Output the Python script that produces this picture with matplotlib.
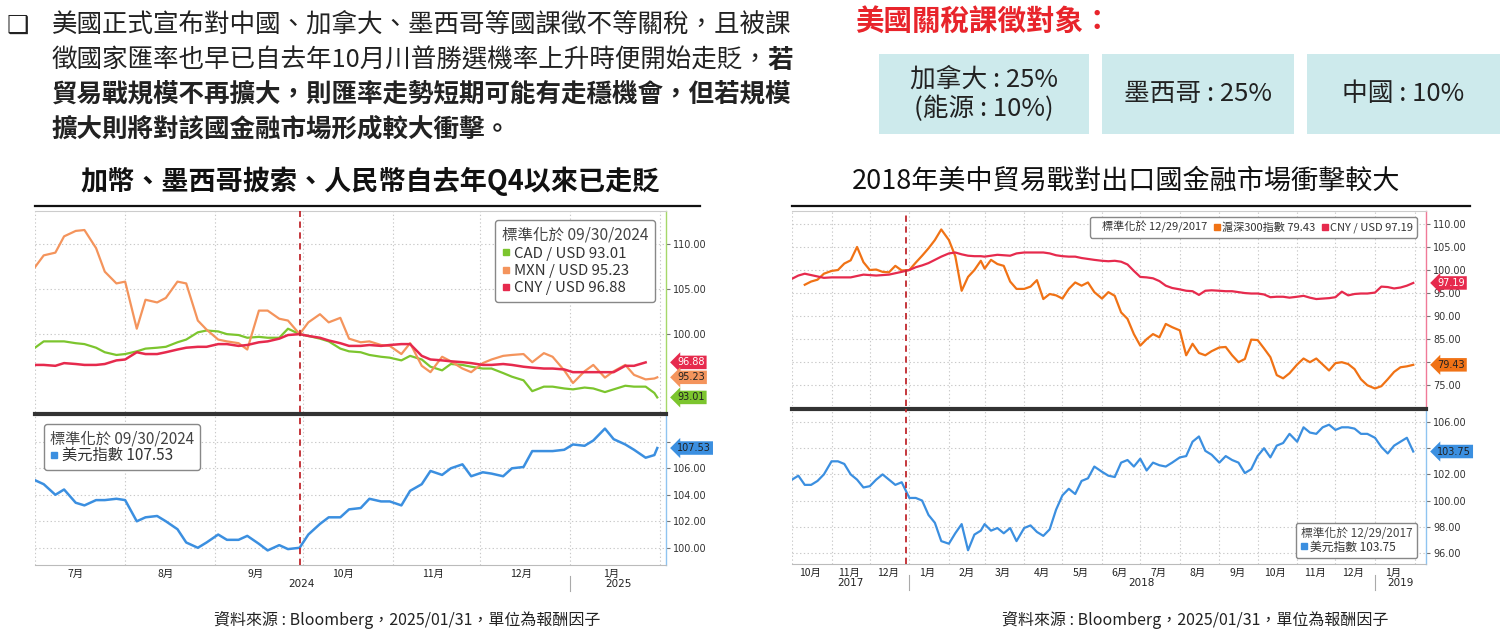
import matplotlib
matplotlib.use("Agg")
import matplotlib.pyplot as plt
import matplotlib.dates as mdates
from matplotlib.lines import Line2D
from matplotlib.patches import Rectangle
from matplotlib.ticker import FuncFormatter
import numpy as np
import pandas as pd

plt.rcParams['font.family'] = ['Noto Sans CJK TC', 'DejaVu Sans']

# ---------------- data: left chart (normalised at 09/30/2024) ----------------
left_dates = [
    "2024-07-01", "2024-07-04", "2024-07-08", "2024-07-11", "2024-07-15", "2024-07-18", "2024-07-22", "2024-07-25", "2024-07-29",
    "2024-08-01", "2024-08-05", "2024-08-08", "2024-08-12", "2024-08-15", "2024-08-19", "2024-08-22", "2024-08-26", "2024-08-29",
    "2024-09-02", "2024-09-05", "2024-09-09", "2024-09-12", "2024-09-16", "2024-09-19", "2024-09-23", "2024-09-26", "2024-09-30",
    "2024-10-03", "2024-10-07", "2024-10-10", "2024-10-14", "2024-10-17", "2024-10-21", "2024-10-24", "2024-10-28", "2024-10-31",
    "2024-11-04", "2024-11-07", "2024-11-11", "2024-11-14", "2024-11-18", "2024-11-21", "2024-11-25", "2024-11-28",
    "2024-12-02", "2024-12-05", "2024-12-09", "2024-12-12", "2024-12-16", "2024-12-19", "2024-12-23", "2024-12-26", "2024-12-30",
    "2025-01-02", "2025-01-06", "2025-01-09", "2025-01-13", "2025-01-16", "2025-01-20", "2025-01-23", "2025-01-27", "2025-01-30", "2025-01-31",
]
cad_usd = [
    98.5, 99.2, 99.2, 99.2, 99.0, 98.9, 98.5, 98.0, 97.7,
    97.8, 98.1, 98.4, 98.5, 98.6, 99.1, 99.4, 100.2, 100.4,
    100.3, 100.0, 99.9, 99.6, 99.7, 99.6, 99.6, 100.6, 100.0,
    99.8, 99.5, 99.2, 98.4, 98.1, 98.0, 97.7, 97.5, 97.4,
    97.1, 97.6, 97.2, 96.4, 96.0, 96.7, 96.6, 96.4,
    96.2, 96.2, 95.7, 95.3, 94.9, 93.7, 94.2, 94.2, 94.0,
    93.9, 94.1, 94.0, 93.6, 93.9, 94.3, 94.2, 94.2, 93.5, 93.01,
]
mxn_usd = [
    107.4, 108.7, 109.0, 110.8, 111.4, 111.5, 109.5, 106.9, 105.6,
    105.8, 100.6, 103.8, 103.5, 104.0, 105.8, 105.6, 101.5, 100.5,
    99.4, 99.2, 99.0, 98.3, 102.6, 102.6, 101.7, 101.5, 100.0,
    101.3, 102.2, 101.3, 101.8, 99.5, 99.1, 99.2, 98.8, 98.7,
    97.8, 99.0, 96.5, 95.8, 97.5, 97.0, 96.2, 95.8,
    96.8, 97.2, 97.6, 97.7, 97.8, 96.9, 97.9, 97.5, 96.0,
    94.6, 95.9, 96.6, 95.2, 95.9, 96.6, 95.5, 95.0, 95.1, 95.23,
]
cny_usd = [
    96.6, 96.6, 96.5, 96.8, 96.7, 96.6, 96.6, 96.7, 97.1,
    97.2, 98.0, 97.8, 97.8, 98.0, 98.3, 98.5, 98.6, 98.6,
    98.9, 98.9, 98.7, 98.8, 99.1, 99.2, 99.5, 99.9, 100.0,
    99.8, 99.6, 99.3, 99.0, 98.7, 98.7, 98.8, 98.7, 98.8,
    98.9, 98.9, 97.6, 97.2, 97.1, 97.0, 96.9, 96.8,
    96.6, 96.6, 96.7, 96.6, 96.4, 96.3, 96.2, 96.2, 96.1,
    95.8, 95.8, 95.8, 95.8, 95.8, 96.5, 96.5, 96.88, np.nan, np.nan,
]
dxy_2024 = [
    105.1, 104.8, 104.0, 104.4, 103.4, 103.2, 103.6, 103.6, 103.7,
    103.6, 102.0, 102.3, 102.4, 102.0, 101.4, 100.4, 100.0, 100.4,
    101.0, 100.6, 100.6, 100.9, 100.3, 99.8, 100.2, 99.9, 100.0,
    101.0, 101.8, 102.3, 102.3, 102.9, 103.0, 103.7, 103.5, 103.5,
    103.2, 104.3, 104.8, 105.8, 105.5, 106.0, 106.3, 105.4,
    105.7, 105.6, 105.4, 106.0, 106.1, 107.3, 107.3, 107.3, 107.4,
    107.8, 107.7, 108.1, 109.0, 108.2, 107.8, 107.4, 106.8, 107.0, 107.53,
]

# ---------------- data: right chart (normalised at 12/29/2017) ----------------
right_dates = [
    "2017-10-01", "2017-10-06", "2017-10-11", "2017-10-16", "2017-10-21", "2017-10-26",
    "2017-11-01", "2017-11-06", "2017-11-11", "2017-11-16", "2017-11-21", "2017-11-26",
    "2017-12-01", "2017-12-06", "2017-12-11", "2017-12-16", "2017-12-21", "2017-12-26",
    "2018-01-01", "2018-01-06", "2018-01-11", "2018-01-16", "2018-01-21", "2018-01-26",
    "2018-02-01", "2018-02-06", "2018-02-11", "2018-02-16", "2018-02-21", "2018-02-26",
    "2018-03-01", "2018-03-06", "2018-03-11", "2018-03-16", "2018-03-21", "2018-03-26",
    "2018-04-01", "2018-04-06", "2018-04-11", "2018-04-16", "2018-04-21", "2018-04-26",
    "2018-05-01", "2018-05-06", "2018-05-11", "2018-05-16", "2018-05-21", "2018-05-26",
    "2018-06-01", "2018-06-06", "2018-06-11", "2018-06-16", "2018-06-21", "2018-06-26",
    "2018-07-01", "2018-07-06", "2018-07-11", "2018-07-16", "2018-07-21", "2018-07-26",
    "2018-08-01", "2018-08-06", "2018-08-11", "2018-08-16", "2018-08-21", "2018-08-26",
    "2018-09-01", "2018-09-06", "2018-09-11", "2018-09-16", "2018-09-21", "2018-09-26",
    "2018-10-01", "2018-10-06", "2018-10-11", "2018-10-16", "2018-10-21", "2018-10-26",
    "2018-11-01", "2018-11-06", "2018-11-11", "2018-11-16", "2018-11-21", "2018-11-26",
    "2018-12-01", "2018-12-06", "2018-12-11", "2018-12-16", "2018-12-21", "2018-12-26",
    "2019-01-01", "2019-01-06", "2019-01-11", "2019-01-16", "2019-01-21", "2019-01-26", "2019-01-31",
]
csi300 = [
    np.nan, np.nan, 96.8, 97.5, 97.9, 99.2,
    99.8, 100.0, 101.4, 102.1, 105.0, 101.7,
    100.0, 100.1, 99.6, 99.5, 100.9, 99.9,
    100.0, 101.6, 103.1, 104.7, 106.5, 108.8,
    106.5, 103.0, 95.5, 98.5, 100.0, 102.0,
    100.3, 102.2, 101.3, 100.9, 97.5, 95.9,
    95.9, 96.4, 97.8, 93.7, 94.8, 94.5,
    93.8, 95.9, 97.3, 96.6, 97.3, 95.2,
    93.8, 95.2, 94.4, 90.8, 89.4, 86.1,
    83.6, 85.0, 86.1, 85.4, 88.3, 87.6,
    86.9, 81.5, 84.0, 82.0, 81.5, 82.4,
    83.2, 83.3, 81.5, 80.0, 80.7, 84.9,
    84.8, 83.0, 81.1, 77.2, 76.5, 77.6,
    79.5, 80.8, 80.0, 80.8, 79.5, 78.2,
    79.8, 80.0, 79.6, 78.5, 76.3, 75.0,
    74.3, 74.8, 76.3, 77.9, 78.9, 79.1, 79.43,
]
cny_2018 = [
    98.1, 98.8, 99.2, 98.9, 98.6, 98.3,
    98.4, 98.4, 98.4, 98.4, 98.7, 99.0,
    98.9, 98.8, 98.9, 99.0, 99.3, 99.6,
    100.0, 100.6, 101.0, 101.5, 102.2, 102.9,
    103.6, 103.8, 103.4, 103.1, 103.0, 103.0,
    102.9, 103.1, 103.3, 103.2, 103.1, 103.6,
    103.8, 103.8, 103.8, 103.8, 103.6, 103.2,
    103.0, 102.9, 102.9, 102.6, 102.4, 102.2,
    102.0, 101.9, 102.0, 101.8, 101.2, 99.8,
    98.5, 98.4, 98.2, 97.6, 96.6, 96.1,
    95.8, 95.5, 95.4, 94.6, 95.5, 95.6,
    95.5, 95.4, 95.4, 95.2, 95.0, 94.9,
    94.9, 94.7, 94.1, 94.2, 94.2, 94.0,
    94.2, 94.4, 94.0, 93.7, 93.8, 93.9,
    94.1, 95.3, 94.5, 94.8, 94.9, 94.9,
    95.1, 96.4, 96.3, 96.0, 96.2, 96.6, 97.19,
]
dxy_2018 = [
    101.6, 101.9, 101.2, 101.2, 101.5, 102.0,
    103.0, 103.0, 102.8, 102.0, 101.6, 101.0,
    101.1, 101.6, 102.0, 101.6, 101.2, 101.4,
    100.2, 100.2, 100.0, 98.9, 98.3, 96.9,
    96.7, 97.5, 98.2, 96.2, 97.4, 97.7,
    98.2, 97.7, 97.9, 97.5, 97.9, 96.9,
    97.9, 98.1, 97.6, 97.3, 97.8, 99.3,
    100.4, 100.9, 100.5, 101.5, 101.7, 102.6,
    102.2, 101.9, 101.8, 102.9, 103.1, 102.6,
    103.2, 102.3, 102.9, 102.7, 102.6, 102.9,
    103.3, 103.4, 104.5, 104.9, 103.8, 103.5,
    102.9, 103.4, 103.1, 102.9, 102.1, 102.4,
    103.4, 104.0, 103.3, 104.2, 104.4, 105.1,
    104.5, 105.6, 105.2, 105.1, 105.6, 105.8,
    105.4, 105.6, 105.6, 105.5, 105.1, 105.1,
    104.8, 104.1, 103.6, 104.2, 104.5, 104.8, 103.75,
]

intro_lines = [
    "美國正式宣布對中國、加拿大、墨西哥等國課徵不等關稅，且被課",
    "徵國家匯率也早已自去年10月川普勝選機率上升時便開始走貶，",
    "貿易戰規模不再擴大，則匯率走勢短期可能有走穩機會，但若規模",
    "擴大則將對該國金融市場形成較大衝擊。",
]
tariff_labels = ["加拿大 : 25%\n(能源 : 10%)", "墨西哥 : 25%", "中國 : 10%"]
source_text = "資料來源 : Bloomberg，2025/01/31，單位為報酬因子"

# ---------------- colours ----------------
C_CAD = "#7cc52e"
C_MXN = "#f4945c"
C_CNY = "#e62a4d"
C_DXY = "#3b8fe0"
C_CSI = "#f07215"
C_RED_LINE = "#c0282d"
GRID = "#c9c9c9"

W, H = 1505, 635
fig = plt.figure(figsize=(W / 100, H / 100), dpi=100)


def rect(x0, y0, x1, y1):
    return [x0 / W, 1 - y1 / H, (x1 - x0) / W, (y1 - y0) / H]


def px(x, y):
    return x / W, 1 - y / H


def style_panel(ax, xlim, ylim, yticks, spine_color, hidden=()):
    ax.set_xlim(xlim)
    ax.set_ylim(ylim)
    ax.yaxis.tick_right()
    ax.set_yticks(yticks)
    # labels sitting under a last-value tag are not shown (as on the terminal chart)
    ax.yaxis.set_major_formatter(FuncFormatter(
        lambda v, p: '' if any(abs(v - h) < 1e-6 for h in hidden) else f"{v:.2f}"))
    ax.tick_params(axis='y', labelsize=7, length=3, width=0.8, color='#777',
                   labelcolor='#333', pad=2, labelfontfamily='DejaVu Sans')
    for s in ['left', 'top', 'bottom']:
        ax.spines[s].set_visible(False)
    ax.spines['right'].set_color(spine_color)
    ax.spines['right'].set_linewidth(1.0)
    ax.xaxis.set_major_locator(mdates.MonthLocator())
    ax.xaxis.set_minor_locator(mdates.MonthLocator(bymonthday=15))
    ax.grid(True, which='major', color=GRID, linestyle=(0, (1.2, 2.2)), lw=0.8)
    ax.tick_params(axis='x', which='both', length=0, labelbottom=False)
    ax.set_axisbelow(True)


def value_tag(ax, value, fc, tc):
    ax.text(1.018, value, f"{value:.2f}", transform=ax.get_yaxis_transform(),
            fontsize=7, color=tc, va='center', ha='left', family='DejaVu Sans',
            bbox=dict(boxstyle='larrow,pad=0.18', fc=fc, ec='none'),
            zorder=10, clip_on=False)


def month_axis(ax, years):
    ax.tick_params(axis='x', which='minor', labelbottom=True, labelsize=7.5,
                   labelcolor='#222', pad=3)
    ax.xaxis.set_minor_formatter(FuncFormatter(lambda v, p: f"{mdates.num2date(v).month}月"))
    ax.spines['bottom'].set_visible(True)
    ax.spines['bottom'].set_color('#bbbbbb')
    ax.spines['bottom'].set_linewidth(0.8)
    lo, hi = ax.get_xlim()
    for yr in years:
        a = max(lo, mdates.date2num(pd.Timestamp(f"{yr}-01-01")))
        b = min(hi, mdates.date2num(pd.Timestamp(f"{yr}-12-31")))
        ax.annotate(str(yr), xy=((a + b) / 2, 0), xycoords=('data', 'axes fraction'),
                    xytext=(0, -19), textcoords='offset pixels', ha='center', va='center',
                    fontsize=7.5, color='#222', family='DejaVu Sans')
        jan1 = mdates.date2num(pd.Timestamp(f"{yr}-01-01"))
        if lo < jan1 < hi:
            ax.plot([jan1, jan1], [-0.07, -0.17], transform=ax.get_xaxis_transform(),
                    color='#aaaaaa', lw=0.8, clip_on=False)


def sq(color):
    return Line2D([], [], linestyle='none', marker='s', markersize=4.5,
                  markerfacecolor=color, markeredgecolor=color)


def tidy_legend(leg):
    leg.get_frame().set_linewidth(1.0)
    leg.get_title().set_color('#444')
    for t in leg.get_texts():
        t.set_color('#333')


# ================= text header =================
fig.text(*px(18, 26), "❑", fontsize=18, ha='center', va='center', color='#222', family='DejaVu Sans')
fig.text(*px(52, 26), intro_lines[0], fontsize=18.4, ha='left', va='center', color='#222')
fig.text(*px(52, 60), intro_lines[1], fontsize=18.4, ha='left', va='center', color='#222')
fig.text(*px(793, 60), "若", fontsize=18.4, ha='right', va='center', color='#222', fontweight='bold')
fig.text(*px(52, 94), intro_lines[2], fontsize=18.4, ha='left', va='center', color='#222', fontweight='bold')
fig.text(*px(52, 129), intro_lines[3], fontsize=18.4, ha='left', va='center', color='#222', fontweight='bold')

fig.text(*px(855, 22), "美國關稅課徵對象：", fontsize=20.5, ha='left', va='center',
         color='#e8242b', fontweight='bold')
box_spans = [(879, 1089), (1102, 1294), (1307, 1500)]
for (x0, x1), lab in zip(box_spans, tariff_labels):
    fig.add_artist(Rectangle(px(x0, 134), (x1 - x0) / W, 80 / H, transform=fig.transFigure,
                             facecolor='#cdeaec', edgecolor='none'))
    fig.text(*px((x0 + x1) / 2, 94), lab, fontsize=18.5, ha='center', va='center',
             color='#222', linespacing=1.15)

fig.text(*px(370, 181), "加幣、墨西哥披索、人民幣自去年Q4以來已走貶", fontsize=19.5,
         ha='center', va='center', color='#111', fontweight='bold')
fig.text(*px(1126, 181), "2018年美中貿易戰對出口國金融市場衝擊較大", fontsize=19.5,
         ha='center', va='center', color='#111')
fig.text(*px(407, 620), source_text, fontsize=11.5, ha='center', va='center', color='#222')
fig.text(*px(1195, 620), source_text, fontsize=11.5, ha='center', va='center', color='#222')

# ================= left chart =================
ld = pd.to_datetime(left_dates)
lxlim = (pd.Timestamp("2024-07-01"), pd.Timestamp("2025-02-03"))
mark_l = pd.Timestamp("2024-09-30")

fig.add_artist(Line2D([35 / W, 700 / W], [1 - 206 / H] * 2, color='#111', lw=1.6))

ax1 = fig.add_axes(rect(35, 211, 666, 412))
style_panel(ax1, lxlim, (91.4, 113.6), [100, 105, 110], '#a6d86a')
ax1.spines['top'].set_visible(True)
ax1.spines['top'].set_color('#cccccc')
ax1.plot(ld, cad_usd, color=C_CAD, lw=1.6, zorder=3)
ax1.plot(ld, mxn_usd, color=C_MXN, lw=1.6, zorder=3)
ax1.plot(ld, cny_usd, color=C_CNY, lw=1.8, zorder=4)
ax1.axvline(mark_l, color=C_RED_LINE, lw=1.3, linestyle=(0, (3.5, 2.5)), zorder=5)
last_cny = [v for v in cny_usd if not np.isnan(v)][-1]
value_tag(ax1, last_cny, C_CNY, 'white')
value_tag(ax1, mxn_usd[-1], C_MXN, '#222')
value_tag(ax1, cad_usd[-1], C_CAD, '#222')
leg = ax1.legend([sq(C_CAD), sq(C_MXN), sq(C_CNY)],
                 [f"CAD / USD {cad_usd[-1]:.2f}", f"MXN / USD {mxn_usd[-1]:.2f}",
                  f"CNY / USD {last_cny:.2f}"],
                 title="標準化於 09/30/2024", alignment='left', loc='upper right',
                 bbox_to_anchor=(0.995, 0.995), fontsize=10.8, title_fontsize=11.2,
                 handlelength=0.5, handletextpad=0.3, labelspacing=0.22, borderpad=0.45,
                 fancybox=True, framealpha=1, edgecolor='#888888')
tidy_legend(leg)

ax2 = fig.add_axes(rect(35, 414, 666, 565))
style_panel(ax2, lxlim, (98.7, 110.1), [100, 102, 104, 106, 108], '#8fc4f0', hidden=(108,))
ax2.spines['top'].set_visible(True)
ax2.spines['top'].set_color('#333333')
ax2.spines['top'].set_linewidth(3)
ax2.plot(ld, dxy_2024, color=C_DXY, lw=1.8, zorder=3)
ax2.axvline(mark_l, color=C_RED_LINE, lw=1.3, linestyle=(0, (3.5, 2.5)), zorder=5)
value_tag(ax2, dxy_2024[-1], C_DXY, '#222')
month_axis(ax2, [2024, 2025])
leg = ax2.legend([sq(C_DXY)], [f"美元指數 {dxy_2024[-1]:.2f}"],
                 title="標準化於 09/30/2024", alignment='left', loc='upper left',
                 bbox_to_anchor=(0.002, 0.985), fontsize=11, title_fontsize=11,
                 handlelength=0.5, handletextpad=0.3, labelspacing=0.0, borderpad=0.4,
                 fancybox=True, framealpha=1, edgecolor='#888888')
tidy_legend(leg)

# ================= right chart =================
rd = pd.to_datetime(right_dates)
rxlim = (pd.Timestamp("2017-10-01"), pd.Timestamp("2019-02-10"))
mark_r = pd.Timestamp("2017-12-29")

fig.add_artist(Line2D([792 / W, 1470 / W], [1 - 206 / H] * 2, color='#111', lw=1.6))

ax3 = fig.add_axes(rect(792, 211, 1426, 406))
style_panel(ax3, rxlim, (70.5, 112.8), [75, 80, 85, 90, 95, 100, 105, 110], '#f07a98',
            hidden=(80,))
ax3.spines['top'].set_visible(True)
ax3.spines['top'].set_color('#cccccc')
ax3.plot(rd, cny_2018, color=C_CNY, lw=1.6, zorder=4)
ax3.plot(rd, csi300, color=C_CSI, lw=1.6, zorder=3)
ax3.axvline(mark_r, color=C_RED_LINE, lw=1.3, linestyle=(0, (3.5, 2.5)), zorder=5)
value_tag(ax3, cny_2018[-1], C_CNY, 'white')
value_tag(ax3, csi300[-1], C_CSI, '#222')
blank = Line2D([], [], linestyle='none')
leg = ax3.legend([blank, sq(C_CSI), sq(C_CNY)],
                 ["標準化於 12/29/2017", f"滬深300指數 {csi300[-1]:.2f}",
                  f"CNY / USD {cny_2018[-1]:.2f}"],
                 ncol=3, loc='upper right', bbox_to_anchor=(0.995, 1.0), fontsize=8,
                 handlelength=0.45, handletextpad=0.25, columnspacing=0.6, borderpad=0.4,
                 fancybox=True, framealpha=1, edgecolor='#888888')
tidy_legend(leg)

ax4 = fig.add_axes(rect(792, 409, 1426, 564))
style_panel(ax4, rxlim, (95.15, 107.0), [96, 98, 100, 102, 104, 106], '#8fc4f0',
            hidden=(104,))
ax4.spines['top'].set_visible(True)
ax4.spines['top'].set_color('#333333')
ax4.spines['top'].set_linewidth(3)
ax4.plot(rd, dxy_2018, color=C_DXY, lw=1.6, zorder=3)
ax4.axvline(mark_r, color=C_RED_LINE, lw=1.3, linestyle=(0, (3.5, 2.5)), zorder=5)
value_tag(ax4, dxy_2018[-1], C_DXY, '#222')
month_axis(ax4, [2017, 2018, 2019])
leg = ax4.legend([sq(C_DXY)], [f"美元指數 {dxy_2018[-1]:.2f}"],
                 title="標準化於 12/29/2017", alignment='left', loc='lower right',
                 bbox_to_anchor=(0.995, 0.0), fontsize=8.5, title_fontsize=8.5,
                 handlelength=0.5, handletextpad=0.3, labelspacing=0.0, borderpad=0.4,
                 fancybox=True, framealpha=1, edgecolor='#888888')
tidy_legend(leg)

fig.savefig("out.png", dpi=100, facecolor='white')
